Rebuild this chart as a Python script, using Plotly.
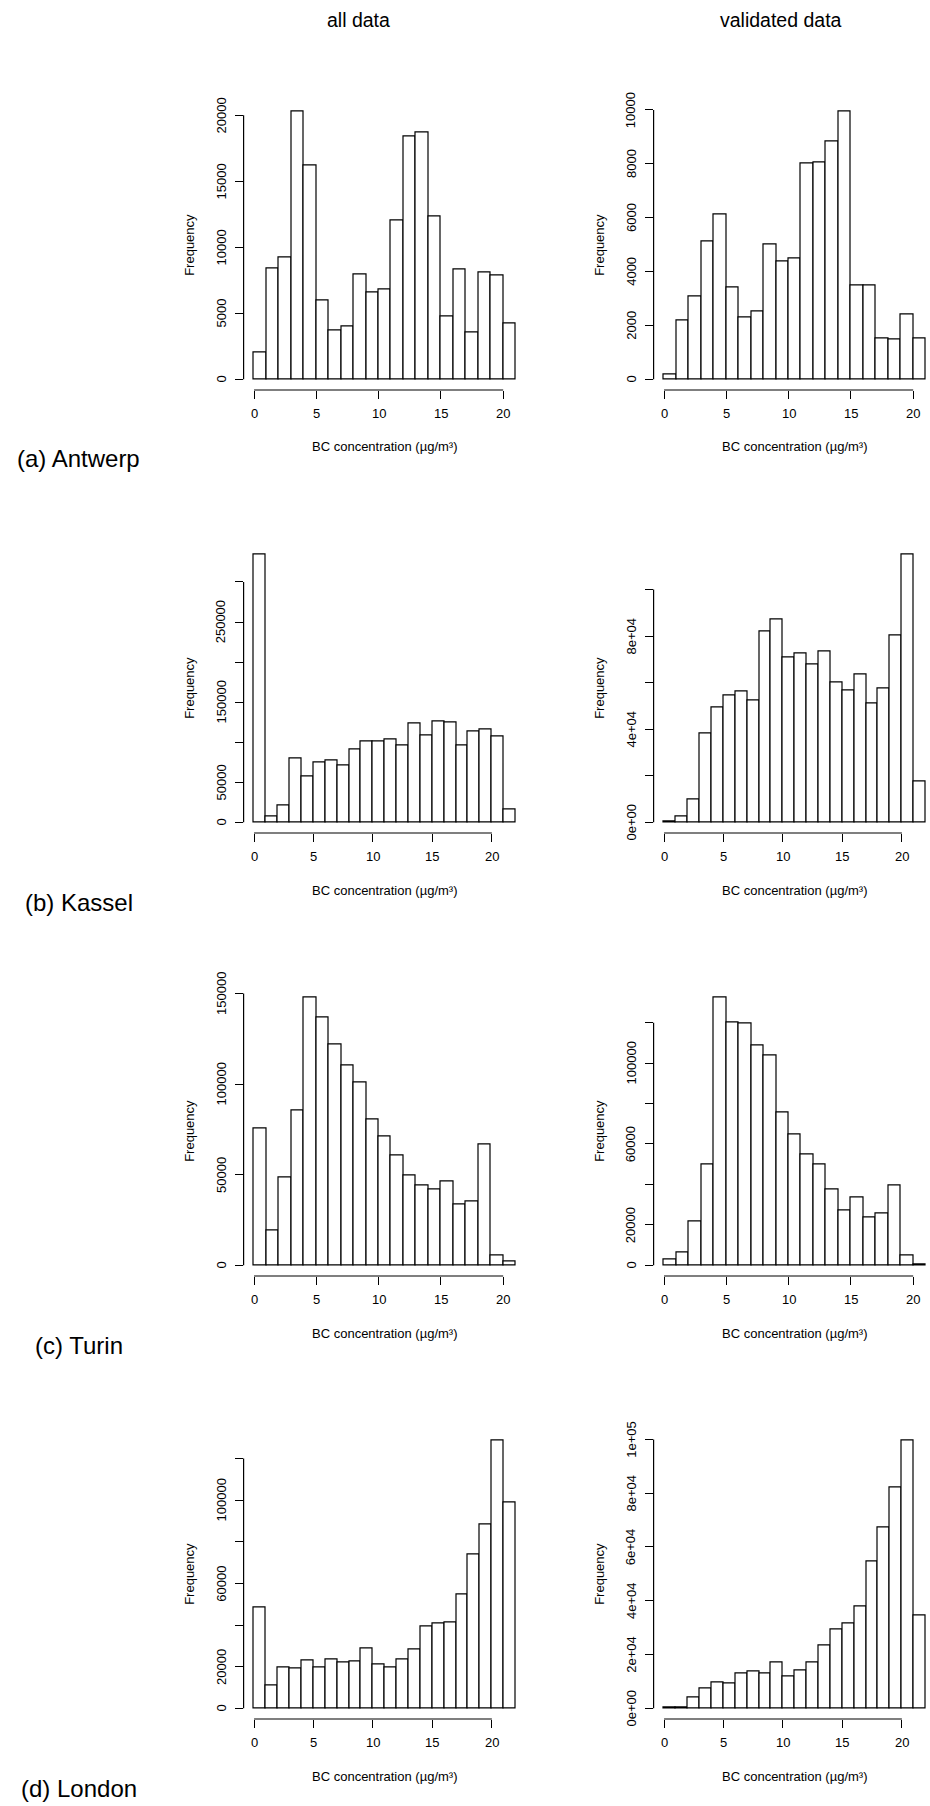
import plotly.graph_objects as go

# Histogram counts per 1 µg/m³ bin, breaks starting at 0
antwerp_all = [2000, 8400, 9200, 20300, 16200, 6000, 3700, 4000, 7950, 6550, 6800,
               12000, 18350, 18700, 12350, 4750, 8350, 3550, 8100, 7850, 4250]
antwerp_valid = [160, 2170, 3090, 5130, 6100, 3400, 2280, 2530, 5010, 4380, 4480,
                 8010, 8060, 8810, 9950, 3470, 3470, 1520, 1480, 2400, 1520]
kassel_all = [334600, 7000, 20400, 79800, 57000, 74400, 77300, 71500, 90600, 101000, 101000,
              103900, 96000, 123000, 108000, 125500, 124300, 96000, 113000, 116000, 107600, 16200]
kassel_valid = [300, 2700, 10000, 38200, 49400, 54400, 56100, 52500, 81800, 87300, 70700,
                72400, 67800, 73400, 59900, 56700, 63700, 51100, 57700, 80300, 115200, 17700]
turin_all = [75600, 19400, 48600, 85200, 148000, 136800, 121800, 110350, 100900, 80400, 71000,
             60800, 49350, 43800, 41960, 46200, 33640, 35490, 66540, 5360, 2000]
turin_valid = [3100, 6200, 21500, 50000, 132600, 120300, 119700, 108700, 103900, 75600, 64900,
               54900, 50000, 37400, 27200, 33400, 23400, 25600, 39300, 4750, 500]
london_all = [48300, 11000, 19700, 19200, 23000, 19700, 23500, 21900, 22600, 28600, 20800,
              19700, 23500, 28200, 39500, 40500, 41300, 54700, 73900, 88300, 128800, 99000]
london_valid = [370, 370, 4100, 7300, 9500, 9200, 12900, 13600, 12900, 16850, 12000,
                14000, 17000, 23300, 29200, 31350, 37800, 54500, 67100, 82000, 99700, 34400]

x_ticks = [0, 5, 10, 15, 20]
x_labels = ["0", "5", "10", "15", "20"]

# y tick positions and their printed labels ("" = label suppressed)
ticks_antwerp_all = [0, 5000, 10000, 15000, 20000]
labels_antwerp_all = ["0", "5000", "10000", "15000", "20000"]
ticks_antwerp_valid = [0, 2000, 4000, 6000, 8000, 10000]
labels_antwerp_valid = ["0", "2000", "4000", "6000", "8000", "10000"]
ticks_kassel_all = [0, 50000, 100000, 150000, 200000, 250000, 300000]
labels_kassel_all = ["0", "50000", "", "150000", "", "250000", ""]
ticks_kassel_valid = [0, 20000, 40000, 60000, 80000, 100000]
labels_kassel_valid = ["0e+00", "", "4e+04", "", "8e+04", ""]
ticks_turin_all = [0, 50000, 100000, 150000]
labels_turin_all = ["0", "50000", "100000", "150000"]
ticks_turin_valid = [0, 20000, 40000, 60000, 80000, 100000, 120000]
labels_turin_valid = ["0", "20000", "", "60000", "", "100000", ""]
ticks_london_all = [0, 20000, 40000, 60000, 80000, 100000, 120000]
labels_london_all = ["0", "20000", "", "60000", "", "100000", ""]
ticks_london_valid = [0, 20000, 40000, 60000, 80000, 100000]
labels_london_valid = ["0e+00", "2e+04", "4e+04", "6e+04", "8e+04", "1e+05"]

column_titles = ["all data", "validated data"]
row_titles = ["(a) Antwerp", "(b) Kassel", "(c) Turin", "(d) London"]
x_title = "BC concentration (µg/m³)"
y_title = "Frequency"

panels = [
    (antwerp_all, ticks_antwerp_all, labels_antwerp_all),
    (antwerp_valid, ticks_antwerp_valid, labels_antwerp_valid),
    (kassel_all, ticks_kassel_all, labels_kassel_all),
    (kassel_valid, ticks_kassel_valid, labels_kassel_valid),
    (turin_all, ticks_turin_all, labels_turin_all),
    (turin_valid, ticks_turin_valid, labels_turin_valid),
    (london_all, ticks_london_all, labels_london_all),
    (london_valid, ticks_london_valid, labels_london_valid),
]

W, H = 930, 1806
FONT = "Liberation Sans, Arial, Helvetica, sans-serif"
INK = "#000000"
LW = 1.2
SMALL = 13

# plot-region geometry in pixels
col_left = [243.6, 653.6]
region_w = 282.5
row_bottom = [390.0, 833.0, 1276.0, 1719.0]
region_h = 289.5

fig = go.Figure()
layout = dict(
    width=W, height=H,
    margin=dict(l=0, r=0, t=0, b=0),
    paper_bgcolor="white", plot_bgcolor="white",
    showlegend=False, bargap=0,
    font=dict(family=FONT, color=INK, size=SMALL),
)
shapes, annotations = [], []


def label(text, **kw):
    d = dict(text=text, showarrow=False, xanchor="center", yanchor="middle",
             font=dict(size=kw.pop("size", SMALL), family=FONT, color=INK))
    d.update(kw)
    annotations.append(d)


for i, (counts, yt, yl) in enumerate(panels):
    r, c = divmod(i, 2)
    n = len(counts)
    sfx = "" if i == 0 else str(i + 1)
    xa, ya = "x" + sfx, "y" + sfx

    # R-style 4% range extension
    x_lo, x_hi = -0.04 * n, 1.04 * n
    y_lo, y_hi = -0.04 * max(counts), 1.04 * max(counts)

    left = col_left[c]
    right = left + region_w
    if right > W:
        x_hi = x_lo + (W - left) / region_w * (x_hi - x_lo)
        right = W
    top_px = row_bottom[r] - region_h

    fig.add_trace(go.Bar(
        x=[k + 0.5 for k in range(n)], y=counts, width=1,
        marker=dict(color="white", line=dict(color=INK, width=LW)),
        xaxis=xa, yaxis=ya, hoverinfo="skip",
    ))

    layout["xaxis" + sfx] = dict(
        domain=[left / W, right / W], range=[x_lo, x_hi], anchor=ya,
        showgrid=False, zeroline=False, showline=False, showticklabels=False,
        tickmode="array", tickvals=x_ticks,
        ticks="outside", ticklen=8, tickwidth=LW, tickcolor=INK,
    )
    layout["yaxis" + sfx] = dict(
        domain=[(H - row_bottom[r]) / H, (H - top_px) / H], range=[y_lo, y_hi], anchor=xa,
        showgrid=False, zeroline=False, showline=False, showticklabels=False,
        tickmode="array", tickvals=yt,
        ticks="outside", ticklen=8, tickwidth=LW, tickcolor=INK,
    )

    # axis lines span first to last tick only
    shapes.append(dict(type="line", xref=xa, yref=ya + " domain",
                       x0=x_ticks[0], x1=x_ticks[-1], y0=0, y1=0,
                       line=dict(color=INK, width=LW)))
    shapes.append(dict(type="line", xref=xa + " domain", yref=ya,
                       x0=0, x1=0, y0=yt[0], y1=yt[-1],
                       line=dict(color=INK, width=LW)))

    # tick labels
    for v, t in zip(x_ticks, x_labels):
        label(t, xref=xa, yref=ya + " domain", x=v, y=0, yshift=-23.3)
    for v, t in zip(yt, yl):
        if t:
            label(t, xref=xa + " domain", yref=ya, x=0, xshift=-22.3, y=v, textangle=-90)

    # axis titles
    label(x_title, xref=xa + " domain", yref=ya + " domain",
          x=0.5 * (region_w / (right - left)), y=0, yshift=-57)
    label(y_title, xref=xa + " domain", yref=ya + " domain",
          x=0, xshift=-54, y=0.5, textangle=-90)

# column headers
for cx, txt in zip([358, 781], column_titles):
    label(txt, xref="paper", yref="paper", x=cx / W, y=1 - 20 / H, size=19.5)

# row labels
for r, txt in enumerate(row_titles):
    cy = row_bottom[r] + 69
    label(txt, xref="paper", yref="paper", x=78.5 / W, y=1 - cy / H, size=24)

layout["shapes"] = shapes
layout["annotations"] = annotations
fig.update_layout(**layout)
fig.write_html("out.html")
